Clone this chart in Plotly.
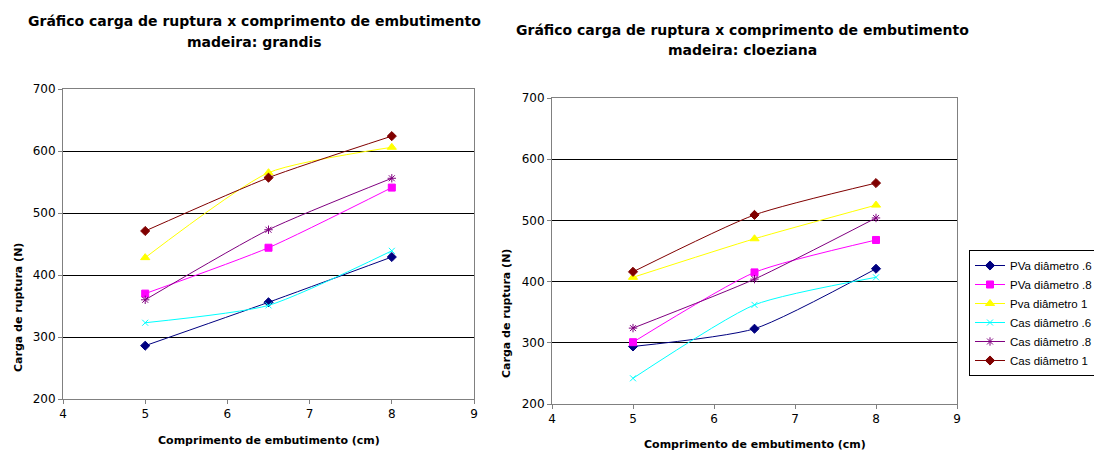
import plotly.graph_objects as go

x_vals = [5, 6.5, 8]
series_names = ["PVa diâmetro .6", "PVa diâmetro .8", "Pva diâmetro 1",
                "Cas diâmetro .6", "Cas diâmetro .8", "Cas diâmetro 1"]

grandis_pva_06 = [286, 356, 429]
grandis_pva_08 = [370, 444, 541]
grandis_pva_1 = [428, 565, 606]
grandis_cas_06 = [323, 351, 439]
grandis_cas_08 = [360, 473, 556]
grandis_cas_1 = [471, 557, 624]

cloez_pva_06 = [294, 323, 421]
cloez_pva_08 = [301, 415, 468]
cloez_pva_1 = [407, 470, 525]
cloez_cas_06 = [242, 362, 407]
cloez_cas_08 = [324, 404, 504]
cloez_cas_1 = [416, 509, 561]

x_ticks = [4, 5, 6, 7, 8, 9]
y_ticks = [200, 300, 400, 500, 600, 700]

colors = ["#000080", "#FF00FF", "#FFFF00", "#00FFFF", "#800080", "#800000"]
symbols = ["diamond", "square", "triangle-up", "x-thin-open", "asterisk-open", "diamond"]
msizes = [7, 7, 8, 6, 7, 7]

grandis = [grandis_pva_06, grandis_pva_08, grandis_pva_1, grandis_cas_06, grandis_cas_08, grandis_cas_1]
cloez = [cloez_pva_06, cloez_pva_08, cloez_pva_1, cloez_cas_06, cloez_cas_08, cloez_cas_1]

FONT = "DejaVu Sans"

fig = go.Figure()
for i, name in enumerate(series_names):
    mk = dict(symbol=symbols[i], size=msizes[i], color=colors[i],
              line=dict(color=colors[i], width=1))
    fig.add_trace(go.Scatter(x=x_vals, y=grandis[i], mode="lines+markers", name=name,
                             line=dict(color=colors[i], width=1, shape="spline", smoothing=0.6),
                             marker=mk, xaxis="x", yaxis="y", showlegend=False))
    fig.add_trace(go.Scatter(x=x_vals, y=cloez[i], mode="lines+markers", name=name,
                             line=dict(color=colors[i], width=1, shape="spline", smoothing=0.6),
                             marker=mk, xaxis="x2", yaxis="y2", showlegend=True))

W, H = 1094, 452
def px(v):
    return v / W
def py(v):
    return (H - v) / H

axis_common = dict(showline=True, linecolor="#808080", linewidth=1, mirror=True,
                   ticks="outside", ticklen=4, tickcolor="#808080",
                   tickfont=dict(family=FONT, size=12, color="#000000"),
                   zeroline=False)

fig.update_layout(
    width=W, height=H,
    margin=dict(l=0, r=0, t=0, b=0, autoexpand=False),
    paper_bgcolor="white", plot_bgcolor="white",
    font=dict(family=FONT, color="#000000"),
    xaxis=dict(domain=[px(63), px(474)], range=[4, 9], tickvals=x_ticks, showgrid=False,
               anchor="y", **axis_common),
    yaxis=dict(domain=[py(399), py(89)], range=[200, 700], tickvals=y_ticks, showgrid=True,
               gridcolor="#000000", gridwidth=1, anchor="x", **axis_common),
    xaxis2=dict(domain=[px(552), px(957)], range=[4, 9], tickvals=x_ticks, showgrid=False,
                anchor="y2", **axis_common),
    yaxis2=dict(domain=[py(404), py(98)], range=[200, 700], tickvals=y_ticks, showgrid=True,
                gridcolor="#000000", gridwidth=1, anchor="x2", **axis_common),
    legend=dict(x=px(969), y=py(250), xanchor="left", yanchor="top",
                bordercolor="#000000", borderwidth=1, bgcolor="white",
                font=dict(family="Liberation Sans, Arial", size=11.5, color="#000000"),
                tracegroupgap=0, itemwidth=30),
    showlegend=True,
)

title_font = dict(family=FONT, size=14, color="#000000")
label_font = dict(family=FONT, size=11, color="#000000")
annotations = [
    dict(text="<b>Gráfico carga de ruptura x comprimento de embutimento</b>",
         x=px(254), y=py(21), font=title_font),
    dict(text="<b>madeira: grandis</b>", x=px(254), y=py(42), font=title_font),
    dict(text="<b>Gráfico carga de ruptura x comprimento de embutimento</b>",
         x=px(742), y=py(30), font=title_font),
    dict(text="<b>madeira: cloeziana</b>", x=px(742), y=py(50), font=title_font),
    dict(text="<b>Comprimento de embutimento (cm)</b>", x=px(269), y=py(440), font=label_font),
    dict(text="<b>Comprimento de embutimento (cm)</b>", x=px(755), y=py(444), font=label_font),
    dict(text="<b>Carga de ruptura (N)</b>", x=px(18), y=py(308), textangle=-90, font=label_font),
    dict(text="<b>Carga de ruptura (N)</b>", x=px(506), y=py(314), textangle=-90, font=label_font),
]
for a in annotations:
    a.update(xref="paper", yref="paper", showarrow=False, xanchor="center", yanchor="middle")
fig.update_layout(annotations=annotations)

fig.write_html("out.html", config={"displayModeBar": False},
               post_script="document.body.style.margin='0';document.body.style.overflow='hidden';")
